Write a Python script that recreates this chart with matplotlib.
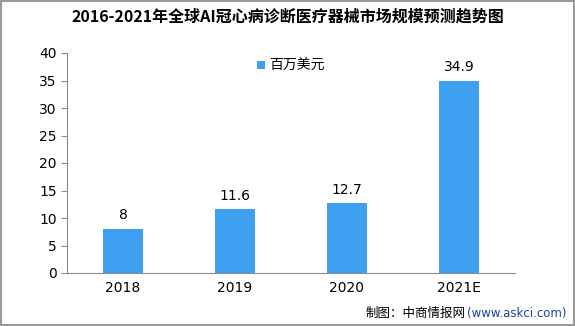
import matplotlib.pyplot as plt
from matplotlib.patches import Rectangle

plt.rcParams['font.family'] = ['Noto Sans CJK SC', 'DejaVu Sans']

years = ["2018", "2019", "2020", "2021E"]
values = [8, 11.6, 12.7, 34.9]
value_labels = ["8", "11.6", "12.7", "34.9"]
series_name = "百万美元"

BAR_COLOR = "#3f9ff0"
AXIS_COLOR = "#8c8c8c"

fig = plt.figure(figsize=(5.75, 3.26), dpi=100)
ax = fig.add_axes([67 / 575, 1 - 273 / 326, 448 / 575, 220 / 326])

x = range(len(years))
ax.bar(x, values, width=0.36, color=BAR_COLOR, label=series_name, zorder=2)
for xi, v, lab in zip(x, values, value_labels):
    ax.text(xi, v + 1.2, lab, ha="center", va="bottom", fontsize=10, family="DejaVu Sans")

ax.set_xlim(-0.5, len(years) - 0.5)
ax.set_ylim(0, 40)
ax.set_yticks(range(0, 41, 5))
ax.set_xticks(list(x))
ax.set_xticklabels(years, family="DejaVu Sans", fontsize=10)
ax.tick_params(axis="y", labelsize=10, color=AXIS_COLOR, length=4)
ax.tick_params(axis="x", length=0, pad=6)
for lab in ax.get_yticklabels():
    lab.set_family("DejaVu Sans")
for side in ["top", "right"]:
    ax.spines[side].set_visible(False)
for side in ["left", "bottom"]:
    ax.spines[side].set_color(AXIS_COLOR)

ax.legend(loc="upper center", bbox_to_anchor=(0.5, 1.03), frameon=False,
          fontsize=10, handlelength=0.6, handleheight=0.6, handletextpad=0.3)

fig.text(0.5, 1 - 17 / 326, "2016-2021年全球AI冠心病诊断医疗器械市场规模预测趋势图",
         ha="center", va="center", fontsize=11.5, fontweight="bold")
fig.text(567 / 575, 1 - 313 / 326, "(www.askci.com)", ha="right", va="center",
         fontsize=8.5, color="#1f3fa0", family="DejaVu Sans")
fig.text(466 / 575, 1 - 313 / 326, "制图：中商情报网", ha="right", va="center", fontsize=9)

fig.patches.append(Rectangle((0.001, 0.002), 0.997, 0.995, transform=fig.transFigure,
                             fill=False, edgecolor="#999999", linewidth=1.5))

fig.savefig("out.png", dpi=100)
